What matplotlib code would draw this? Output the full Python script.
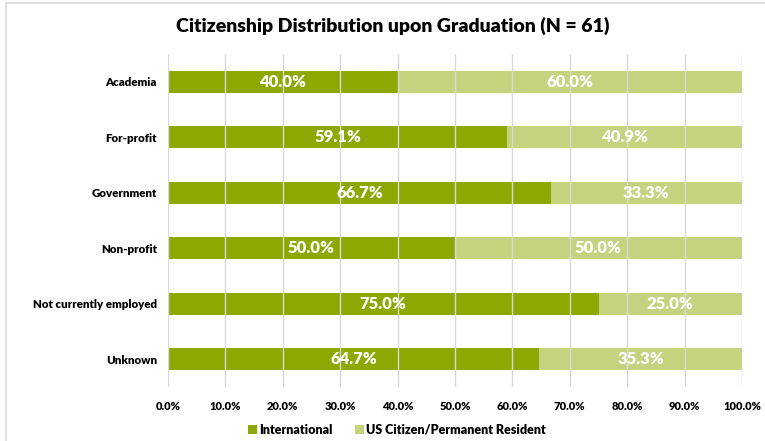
import matplotlib
matplotlib.use("Agg")
import matplotlib.pyplot as plt
import numpy as np

categories = ["Academia", "For-profit", "Government", "Non-profit", "Not currently employed", "Unknown"]
international = [40.0, 59.1, 66.7, 50.0, 75.0, 64.7]
us_citizen = [60.0, 40.9, 33.3, 50.0, 25.0, 35.3]
xticks = [0, 10, 20, 30, 40, 50, 60, 70, 80, 90, 100]

plt.rcParams['font.family'] = ['Lato', 'DejaVu Sans']
W = 'heavy'

fig = plt.figure(figsize=(7.65, 4.41), dpi=100)
ax = fig.add_axes([168/765, 1-387/441, (742-168)/765, (387-54)/441])

# frame lines
fig.add_artist(plt.Line2D([6/765, 1], [1-3/441, 1-3/441], color='#d9d9d9', lw=1.2, transform=fig.transFigure))
fig.add_artist(plt.Line2D([6/765, 6/765], [0, 1-3/441], color='#d9d9d9', lw=1.2, transform=fig.transFigure))

y = np.arange(len(categories))
green = '#8DA800'
ax.barh(y, international, height=0.4, color=green, zorder=2, label='International')
ax.barh(y, us_citizen, left=international, height=0.4, color=green, alpha=0.5, zorder=2,
        label='US Citizen/Permanent Resident')

for i in range(len(categories)):
    ax.text(international[i]/2, y[i], f"{international[i]:.1f}%", ha='center', va='center',
            color='white', fontsize=12, fontweight=W, zorder=4)
    ax.text(international[i] + us_citizen[i]/2, y[i], f"{us_citizen[i]:.1f}%", ha='center', va='center',
            color='white', fontsize=12, fontweight=W, zorder=4)

ax.set_xlim(0, 100)
ax.set_ylim(len(categories)-0.5, -0.5)
ax.set_xticks(xticks)
ax.set_xticklabels([f"{v:.1f}%" for v in xticks], fontsize=8, fontweight=W)
ax.set_yticks(y)
ax.set_yticklabels(categories, fontsize=8.3, fontweight=W)
ax.tick_params(axis='x', length=0, pad=10)
ax.tick_params(axis='y', length=0, pad=8)
ax.grid(axis='x', color='#d9d9d9', lw=1, zorder=1)
ax.set_axisbelow(False)
for s in ax.spines.values():
    s.set_visible(False)

fig.text(393/765, 1-26/441, "Citizenship Distribution upon Graduation (N = 61)", ha='center', va='center',
         fontsize=14, fontweight=W)

leg = fig.legend(loc='center', bbox_to_anchor=(397/765, 1-430/441), ncol=2, frameon=False,
                 prop={'weight': W, 'size': 9}, handlelength=0.7, handleheight=0.7,
                 handletextpad=0.2, columnspacing=1.8)

fig.savefig("out.png", dpi=100)
